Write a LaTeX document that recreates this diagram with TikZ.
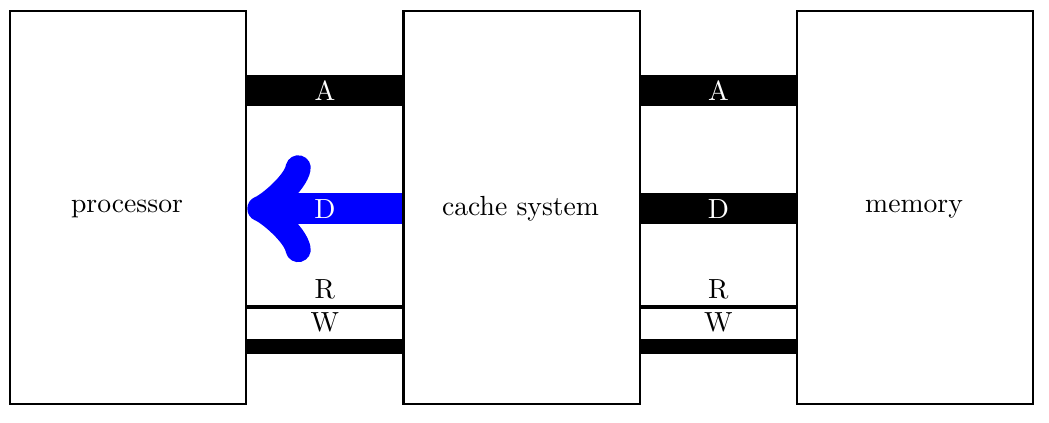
\documentclass[tikz,border=0pt]{standalone}
\begin{document}
\begin{tikzpicture}
\tikzset{
  unit/.style={draw, thick, minimum width=3cm, minimum height=5cm, anchor=south west, inner sep=0pt},
  bus/.style={line width=0.4cm},
  ctrl/.style={line width=1.2pt},
  wbus/.style={line width=0.2cm},
  buslabel/.style={text=white, inner sep=0pt}
}
\useasboundingbox (-0.114,-0.216) rectangle (13.215,5.152);
\node[unit] (proc) at (0,0) {};
\node[unit] (cache) at (5,0) {};
\node[unit] (mem) at (10,0) {};
\node at (1.5,2.5) {processor};
\node at (6.5,2.5) {cache system};
\node at (11.5,2.5) {memory};
% A buses
\draw[bus] (proc.east |- 0,4) -- (cache.west |- 0,4) node[midway, buslabel] (a1) {A};
\draw[bus] (cache.east |- 0,4) -- (mem.west |- 0,4) node[midway, buslabel] (a2) {A};
% D buses
\draw[bus, blue, -to] (cache.west |- 0,2.5) -- (proc.east |- 0,2.5) node[midway, buslabel] (d1) {D};
\draw[bus] (cache.east |- 0,2.5) -- (mem.west |- 0,2.5) node[midway, buslabel] (d2) {D};
% R lines
\draw[ctrl] (proc.east |- 0,1.25) -- (cache.west |- 0,1.25)
  node[midway, above=-1pt] (r1) {R} node[midway, below=-1.8pt] (w1) {W};
\draw[ctrl] (cache.east |- 0,1.25) -- (mem.west |- 0,1.25)
  node[midway, above=-1pt] (r2) {R} node[midway, below=-1.8pt] (w2) {W};
% W buses
\draw[wbus] (proc.east |- 0,0.75) -- (cache.west |- 0,0.75);
\draw[wbus] (cache.east |- 0,0.75) -- (mem.west |- 0,0.75);
\end{tikzpicture}
\end{document}
